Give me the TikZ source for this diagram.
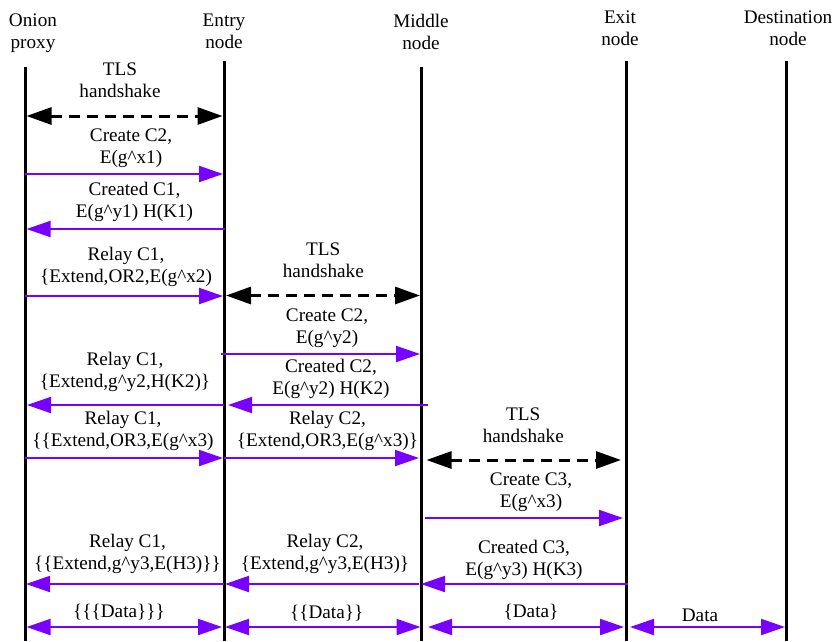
\documentclass[tikz,border=0pt]{standalone}
\usepackage{fontspec}
\setmainfont{Liberation Serif}
\usetikzlibrary{arrows.meta}
\definecolor{msgpurple}{RGB}{120,0,255}
\begin{document}
\begin{tikzpicture}[x=1pt,y=-1pt,
  lifeline/.style={line width=3pt,black},
  msg/.style={color=msgpurple,line width=2pt,-{Triangle[length=24pt,width=16pt]}},
  bimsg/.style={color=msgpurple,line width=2pt,{Triangle[length=24pt,width=16pt]}-{Triangle[length=24pt,width=16pt]}},
  tls/.style={black,line width=3pt,dash pattern=on 11pt off 7pt,{Triangle[length=25pt,width=17pt]}-{Triangle[length=25pt,width=17pt]}},
  lbl/.style={font=\fontsize{19.2}{22}\selectfont,align=center,inner sep=0pt,anchor=south,execute at end node=\strut},
]
\useasboundingbox (0,0) rectangle (835,641);

% headers
\node[lbl] (hop) at (33,54.9) {Onion\\proxy};
\node[lbl] (hen) at (224,54.9) {Entry\\node};
\node[lbl] (hmi) at (421,55.9) {Middle\\node};
\node[lbl] (hex) at (620,52.3) {Exit\\node};
\node[lbl] (hde) at (788,52.3) {Destination\\node};

% lifelines
\coordinate (opT) at (25,67);  \coordinate (opB) at (25,641);
\coordinate (enT) at (224,61); \coordinate (enB) at (224,641);
\coordinate (miT) at (421,67); \coordinate (miB) at (421,641);
\coordinate (exT) at (626,61); \coordinate (exB) at (626,641);
\coordinate (deT) at (786,61); \coordinate (deB) at (786,641);
\draw[lifeline] (opT) -- (opB);
\draw[lifeline] (enT) -- (enB);
\draw[lifeline] (miT) -- (miB);
\draw[lifeline] (exT) -- (exB);
\draw[lifeline] (deT) -- (deB);

% message end points
\coordinate (a1s) at (26.5,116);  \coordinate (a1e) at (222.5,116);
\coordinate (a2s) at (25,174);    \coordinate (a2e) at (223,174);
\coordinate (a3s) at (225,229);   \coordinate (a3e) at (26.5,229);
\coordinate (a4s) at (25,296);    \coordinate (a4e) at (223,296);
\coordinate (a5s) at (226,295.5); \coordinate (a5e) at (420,295.5);
\coordinate (a6s) at (221,354);   \coordinate (a6e) at (420,354);
\coordinate (a7s) at (428,405);   \coordinate (a7e) at (228,405);
\coordinate (a8s) at (224,405);   \coordinate (a8e) at (27,405);
\coordinate (a9s) at (25,458);    \coordinate (a9e) at (223,458);
\coordinate (a10s) at (224,458);  \coordinate (a10e) at (419,458);
\coordinate (a11s) at (426.5,460); \coordinate (a11e) at (621,460);
\coordinate (a12s) at (425,518);   \coordinate (a12e) at (623,518);
\coordinate (a13s) at (628,584);   \coordinate (a13e) at (421,584);
\coordinate (a14s) at (419,584);   \coordinate (a14e) at (225,584);
\coordinate (a15s) at (224,584);   \coordinate (a15e) at (26,584);
\coordinate (a16s) at (26.5,627);  \coordinate (a16e) at (222,627);
\coordinate (a17s) at (225,627);   \coordinate (a17e) at (420.5,627);
\coordinate (a18s) at (428,627);   \coordinate (a18e) at (624,627);
\coordinate (a19s) at (630,627);   \coordinate (a19e) at (785,627);

% messages
\draw[tls] (a1s) -- (a1e);
\draw[msg] (a2s) -- (a2e);
\draw[msg] (a3s) -- (a3e);
\draw[msg] (a4s) -- (a4e);
\draw[tls] (a5s) -- (a5e);
\draw[msg] (a6s) -- (a6e);
\draw[msg] (a7s) -- (a7e);
\draw[msg] (a8s) -- (a8e);
\draw[msg] (a9s) -- (a9e);
\draw[msg] (a10s) -- (a10e);
\draw[tls] (a11s) -- (a11e);
\draw[msg] (a12s) -- (a12e);
\draw[msg] (a13s) -- (a13e);
\draw[msg] (a14s) -- (a14e);
\draw[msg] (a15s) -- (a15e);
\draw[bimsg] (a16s) -- (a16e);
\draw[bimsg] (a17s) -- (a17e);
\draw[bimsg] (a18s) -- (a18e);
\draw[bimsg] (a19s) -- (a19e);

% labels
\node[lbl] (l1) at (120,104.6) {TLS\\handshake};
\node[lbl] (l2) at (131,170) {Create C2,\\E(g\textasciicircum x1)};
\node[lbl] (l3) at (134.5,224.6) {Created C1,\\E(g\textasciicircum y1) H(K1)};
\node[lbl] (l4) at (126,289.6) {Relay C1,\\\{Extend,OR2,E(g\textasciicircum x2)};
\node[lbl] (l5) at (323.3,284.6) {TLS\\handshake};
\node[lbl] (l6) at (327,350.6) {Create C2,\\E(g\textasciicircum y2)};
\node[lbl] (l7) at (331,401.6) {Created C2,\\E(g\textasciicircum y2) H(K2)};
\node[lbl] (l8) at (125,394.6) {Relay C1,\\\{Extend,g\textasciicircum y2,H(K2)\}};
\node[lbl] (l9) at (123,453.1) {Relay C1,\\\{\{Extend,OR3,E(g\textasciicircum x3)};
\node[lbl] (l10) at (327.5,453.1) {Relay C2,\\\{Extend,OR3,E(g\textasciicircum x3)\}};
\node[lbl] (l11) at (523.3,449.6) {TLS\\handshake};
\node[lbl] (l12) at (531,514.6) {Create C3,\\E(g\textasciicircum x3)};
\node[lbl] (l13) at (524,582.6) {Created C3,\\E(g\textasciicircum y3) H(K3)};
\node[lbl] (l14) at (325,576.6) {Relay C2,\\\{Extend,g\textasciicircum y3,E(H3)\}};
\node[lbl] (l15) at (127.5,576.6) {Relay C1,\\\{\{Extend,g\textasciicircum y3,E(H3)\}\}};
\node[lbl] (l16) at (119,624.6) {\{\{\{Data\}\}\}};
\node[lbl] (l17) at (326.7,625.6) {\{\{Data\}\}};
\node[lbl] (l18) at (531,624.6) {\{Data\}};
\node[lbl] (l19) at (700,628.6) {Data};
\end{tikzpicture}
\end{document}
